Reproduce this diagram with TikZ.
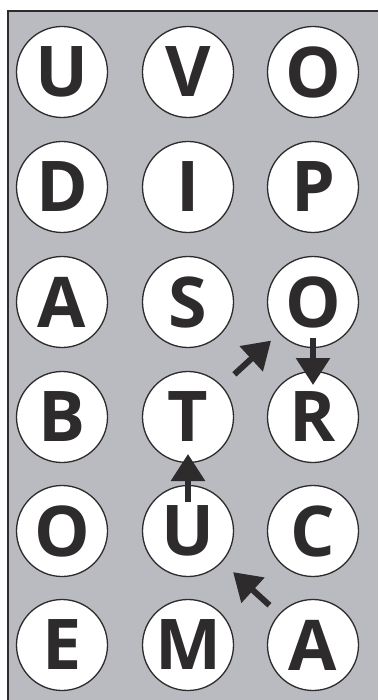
\documentclass[tikz,border=0pt]{standalone}
\usepackage{fontspec}
\setmainfont{Open Sans}
\usetikzlibrary{arrows.meta}
\definecolor{panelgrey}{RGB}{186,187,192}
\definecolor{inkdark}{RGB}{45,43,44}
\tikzset{
  letterdisc/.style={circle,draw=inkdark,line width=1.3pt,fill=white,
    minimum size=91pt,inner sep=0pt,text=inkdark,
    font=\fontsize{70}{70}\selectfont\bfseries},
  movearrow/.style={draw=inkdark,line width=6pt,
    -{Triangle[length=27pt,width=33pt]}},
}
\begin{document}
\begin{tikzpicture}[x=1pt,y=-1pt]
  \useasboundingbox (0,0) rectangle (378,700);
  \fill[panelgrey] (8,11) rectangle (378,700);
  \draw[inkdark,line width=2pt] (8,700) -- (8,11) -- (378,11);
  % grid of letters, one row per entry
  \foreach \r/\y/\a/\b/\c in {1/72/U/V/O,2/187/D/I/P,3/302/A/S/O,
      4/417/B/T/R,5/531/O/U/C,6/645/E/M/A}{
    \node[letterdisc] (l-\r-1) at (62,\y) {\a};
    \node[letterdisc] (l-\r-2) at (188,\y) {\b};
    \node[letterdisc] (l-\r-3) at (313,\y) {\c};
  }
  % path of moves
  \draw[movearrow,shorten <=59pt,shorten >=61pt] (l-6-3.center) -- (l-5-2.center);
  \draw[movearrow,shorten <=29pt,shorten >=37pt] (l-5-2.center) -- (l-4-2.center);
  \draw[movearrow,shorten <=63pt,shorten >=57pt] (l-4-2.center) -- (l-3-3.center);
  \draw[movearrow,shorten <=36pt,shorten >=32pt] (l-3-3.center) -- (l-4-3.center);
\end{tikzpicture}
\end{document}
